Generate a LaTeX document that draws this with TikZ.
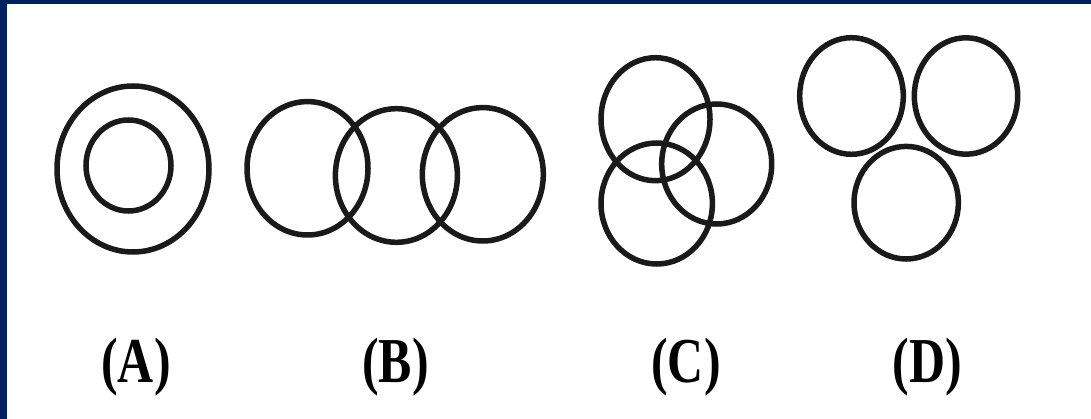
\documentclass[tikz,border=0pt]{standalone}
\usepackage{fontspec}
\setmainfont{Liberation Serif}
\definecolor{navy}{HTML}{002060}
\definecolor{ink}{HTML}{1A1A1A}
\begin{document}
\begin{tikzpicture}[x=1pt,y=-1pt,
  ring/.style={draw=ink,line width=5.5pt},
  lbl/.style={font=\fontsize{64}{64}\selectfont\bfseries,xscale=0.78,anchor=base,inner sep=0pt}]
\useasboundingbox (0,0) rectangle (1091,419);
\fill[white] (0,0) rectangle (1091,419);
\fill[navy] (0,0) rectangle (1091,4);
\fill[navy] (0,0) rectangle (7,419);
% (A)
\draw[ring] (133,169) ellipse [x radius=76, y radius=83];
\draw[ring] (128.5,165.5) ellipse [x radius=42.5, y radius=45.5];
% (B)
\draw[ring] (307.5,168.3) ellipse [x radius=60.5, y radius=66.7];
\draw[ring] (396.4,175.5) ellipse [x radius=61, y radius=66.8];
\draw[ring] (482.8,174.3) ellipse [x radius=60.5, y radius=66.7];
% (C)
\draw[ring] (655.5,119.2) ellipse [x radius=54.5, y radius=61.5];
\draw[ring] (716.7,164) ellipse [x radius=55, y radius=60];
\draw[ring] (656.7,203.5) ellipse [x radius=55.7, y radius=60.5];
% (D)
\draw[ring] (851.5,96) ellipse [x radius=51.8, y radius=58.3];
\draw[ring] (966,96) ellipse [x radius=51.7, y radius=58.2];
\draw[ring] (906.2,202.7) ellipse [x radius=52.2, y radius=56.3];
% labels
\node[lbl] (la) at (136,382) {(A)};
\node[lbl] (lb) at (395.5,382) {(B)};
\node[lbl] (lc) at (686,382) {(C)};
\node[lbl] (ld) at (927.5,382) {(D)};
\end{tikzpicture}
\end{document}
